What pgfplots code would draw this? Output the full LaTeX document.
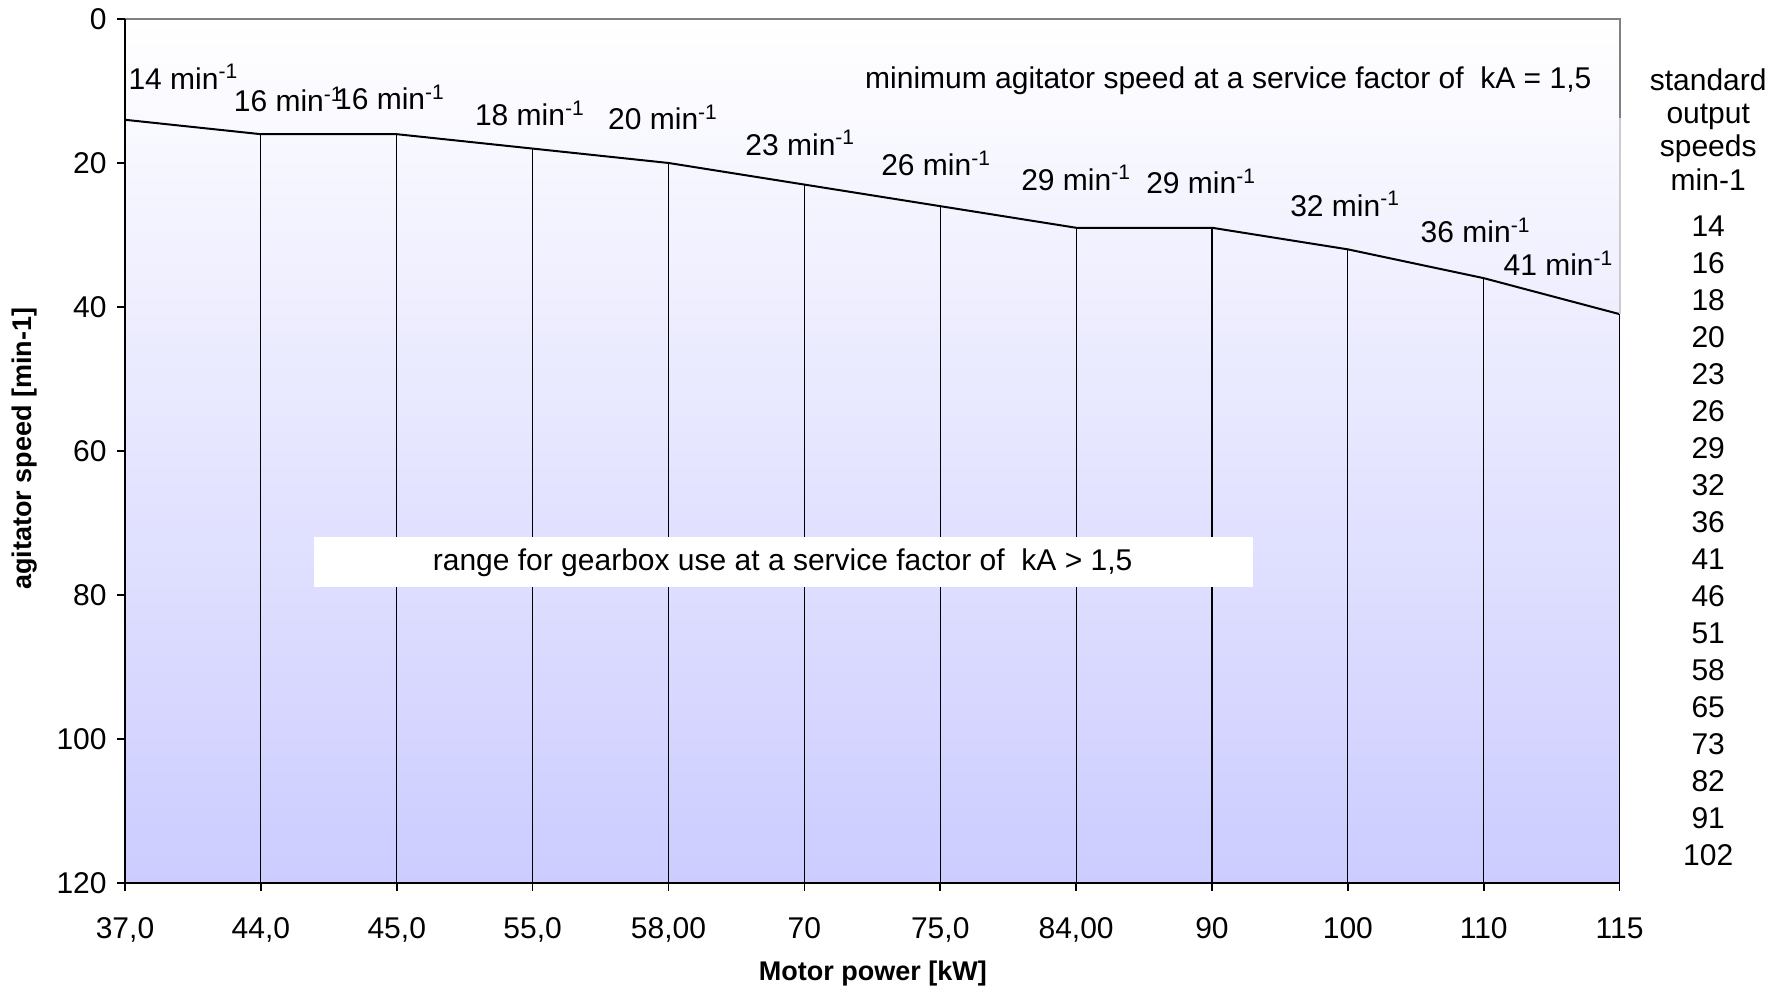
\documentclass[border=0pt]{standalone}
\usepackage{pgfplots}
\pgfplotsset{compat=1.18}
\usepackage{fontspec}
\setmainfont{Liberation Sans}
\definecolor{lav}{RGB}{204,204,255}
\definecolor{lavmid}{RGB}{236,236,255}
\begin{document}
\fontsize{15}{18}\selectfont
\begin{tikzpicture}
\useasboundingbox (-62.5pt,-54.5pt) rectangle (828.5pt,441.4pt);
\begin{axis}[
  scale only axis, width=747.3pt, height=431.9pt,
  xmin=0, xmax=11, ymin=0, ymax=120, y dir=reverse,
  clip=false,
  axis line style={draw=none},
  axis background/.style={top color=white, middle color=lavmid, bottom color=lav},
  xtick={0,...,11},
  xticklabels={{37,0},{44,0},{45,0},{55,0},{58,00},70,{75,0},{84,00},90,100,110,115},
  ytick={0,20,...,120},
  tick align=outside, major tick length=4pt,
  tick style={black, line width=0.8pt},
  xtick pos=left, ytick pos=left,
  xticklabel pos=left, yticklabel pos=left,
  /pgf/number format/assume math mode=true,
  ticklabel style={font=\fontsize{15}{18}\selectfont},
  xticklabel style={yshift=-8.3pt},
]
\addplot[black, line width=0.6pt, unbounded coords=jump] coordinates {
  (1,16)(1,120)(1,nan)
  (2,16)(2,120)(2,nan)
  (3,18)(3,120)(3,nan)
  (4,20)(4,120)(4,nan)
  (5,23)(5,120)(5,nan)
  (6,26)(6,120)(6,nan)
  (7,29)(7,120)(7,nan)
  (8,29)(8,120)(8,nan)
  (9,32)(9,120)(9,nan)
  (10,36)(10,120)(10,nan)
  (11,41)(11,120)
};
\addplot[black, line width=1pt] coordinates {
  (0,14)(1,16)(2,16)(3,18)(4,20)(5,23)(6,26)(7,29)(8,29)(9,32)(10,36)(11,41)
};
\fill[white] (axis cs:1.39,72.0) rectangle (axis cs:8.30,78.9);
\node at (axis cs:4.84,75.5) {range for gearbox use at a service factor of \ kA > 1,5};
\node at (axis cs:8.12,8.53) {minimum agitator speed at a service factor of \ kA = 1,5};
\draw[gray, line width=1pt] (axis cs:0,0) -- (axis cs:11,0) -- (axis cs:11,13.7);
\draw[black!20, line width=1pt] (axis cs:11,13.7) -- (axis cs:11,41);
\draw[black, line width=1pt] (axis cs:0,0) -- (axis cs:0,120) -- (axis cs:11,120);
\node at (axis cs:0.43,8.05) {14 min\textsuperscript{-1}};
\node at (axis cs:1.205,11.2) {16 min\textsuperscript{-1}};
\node at (axis cs:1.95,10.9) {16 min\textsuperscript{-1}};
\node at (axis cs:2.98,13.1) {18 min\textsuperscript{-1}};
\node at (axis cs:3.96,13.7) {20 min\textsuperscript{-1}};
\node at (axis cs:4.97,17.2) {23 min\textsuperscript{-1}};
\node at (axis cs:5.97,20.05) {26 min\textsuperscript{-1}};
\node at (axis cs:7.0,22.1) {29 min\textsuperscript{-1}};
\node at (axis cs:7.92,22.6) {29 min\textsuperscript{-1}};
\node at (axis cs:8.98,25.7) {32 min\textsuperscript{-1}};
\node at (axis cs:9.94,29.4) {36 min\textsuperscript{-1}};
\node at (axis cs:10.55,33.9) {41 min\textsuperscript{-1}};
\end{axis}
\node[rotate=90, font=\bfseries\fontsize{13.5}{16}\selectfont] at (-50pt,217pt) {agitator speed [min-1]};
\node[font=\bfseries\fontsize{13.5}{16}\selectfont] at (373.9pt,-45.5pt) {Motor power [kW]};
\node at (791.6pt,401.7pt) {standard};
\node at (791.6pt,383pt) {output};
\node at (791.6pt,367pt) {speeds};
\node at (791.6pt,351.7pt) {min-1};
\foreach \v [count=\k from 0] in {14,16,18,20,23,26,29,32,36,41,46,51,58,65,73,82,91,102} {
  \node at ({791.6pt},{328.45pt-18.514pt*\k}) {\v};
}
\end{tikzpicture}
\end{document}
